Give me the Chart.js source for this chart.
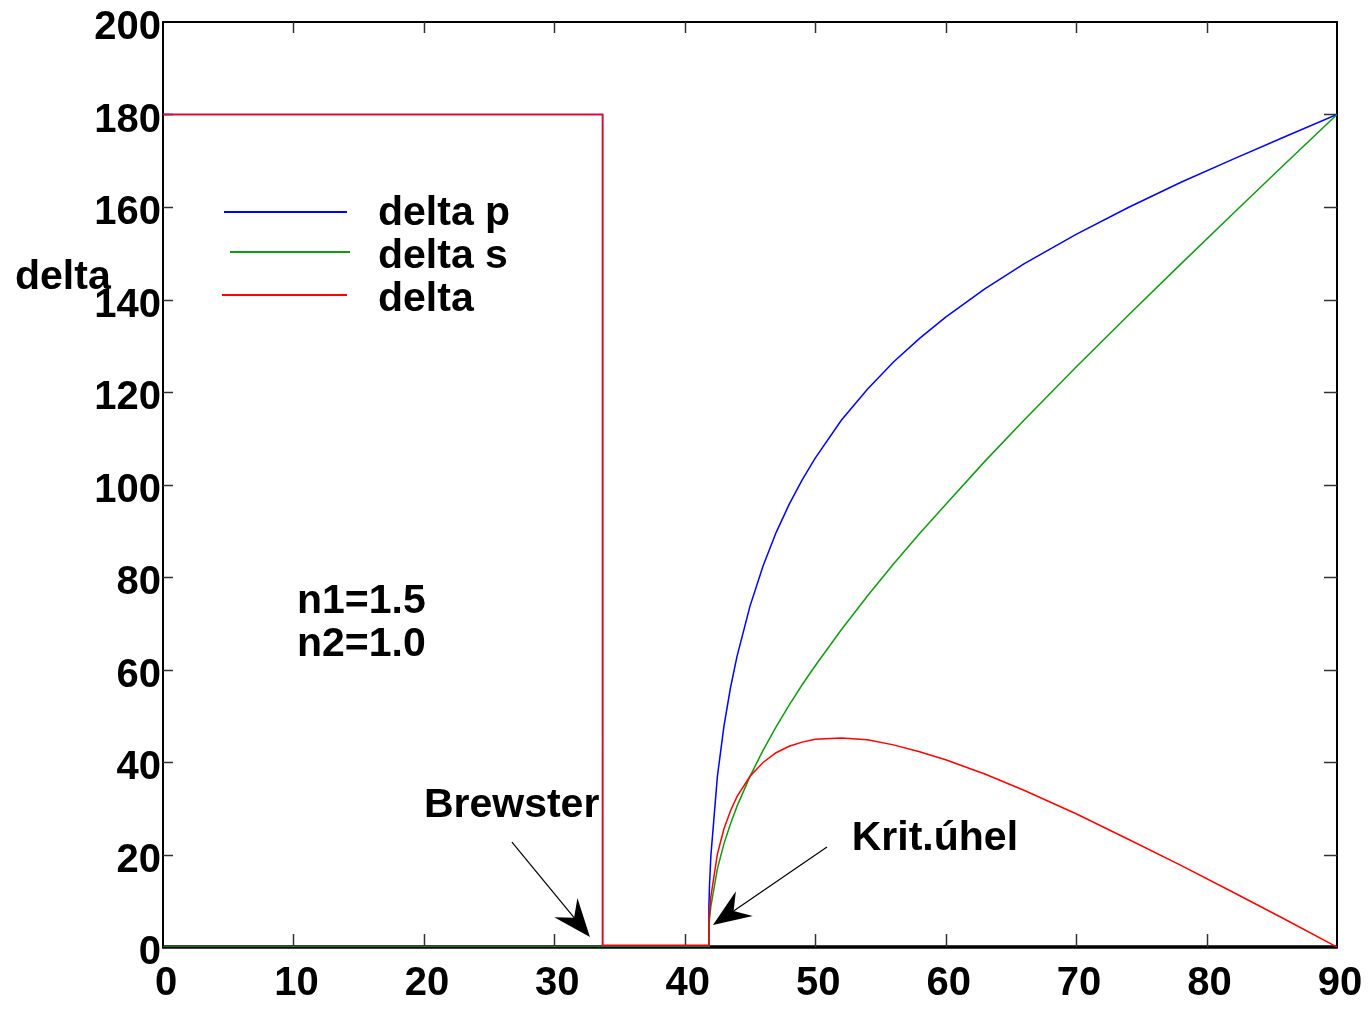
<!DOCTYPE html>
<html>
<head>
<meta charset="utf-8">
<title>delta</title>
<script src="https://cdn.jsdelivr.net/npm/chart.js@4.4.1/dist/chart.umd.min.js"></script>
<style>
  html, body { margin: 0; padding: 0; background: #fff; }
  canvas { display: block; }
</style>
</head>
<body>
<canvas id="grafico" width="1371" height="1009"></canvas>
<script>
// Valores (ángulo en grados, delta en grados)
const uhelP = [0, 33.7, 33.7, 41.8, 41.85, 41.9, 42, 42.5, 43, 43.5, 44, 45, 46, 47, 48, 49, 50, 52, 54, 56, 58, 60, 63, 66, 70, 74, 78, 82, 86, 90];
const deltaP = [180, 180, 0, 0, 9.1, 13.6, 19.7, 36.9, 47.7, 56.0, 62.8, 73.7, 82.4, 89.6, 95.7, 101.0, 105.7, 113.9, 120.6, 126.5, 131.6, 136.2, 142.3, 147.7, 154.1, 159.9, 165.3, 170.3, 175.2, 180];

const uhelS = [0, 41.8, 41.85, 41.9, 42, 42.5, 43, 43.5, 44, 45, 46, 47, 48, 49, 50, 52, 54, 56, 58, 60, 63, 66, 70, 74, 78, 82, 86, 90];
const deltaS = [0, 0, 4.1, 6.1, 8.8, 16.9, 22.3, 26.6, 30.4, 36.9, 42.5, 47.6, 52.3, 56.7, 60.8, 68.6, 75.9, 82.8, 89.4, 95.7, 105.0, 113.9, 125.4, 136.6, 147.6, 158.5, 169.3, 180];

const uhelD = [0, 33.7, 33.7, 41.8, 41.85, 41.9, 42, 42.5, 43, 43.5, 44, 45, 46, 47, 48, 49, 50, 52, 54, 56, 58, 60, 63, 66, 70, 74, 78, 82, 86, 90];
const delta = [180, 180, 0.4, 0.4, 5.1, 7.5, 10.9, 20.1, 25.5, 29.4, 32.5, 36.9, 39.9, 42.0, 43.4, 44.3, 44.9, 45.2, 44.8, 43.7, 42.2, 40.5, 37.4, 33.9, 28.8, 23.3, 17.7, 11.9, 6.0, 0];

const ticksX = [0, 10, 20, 30, 40, 50, 60, 70, 80, 90];
const ticksY = [0, 20, 40, 60, 80, 100, 120, 140, 160, 180, 200];

const puntos = (xs, ys) => xs.map((x, i) => ({ x: x, y: ys[i] }));

const fuente = '"Liberation Sans", Arial, Helvetica, sans-serif';
Chart.defaults.font.family = fuente;
Chart.defaults.font.size = 40;
Chart.defaults.font.weight = 'bold';
Chart.defaults.color = '#000';

// Marco, ticks hacia dentro, leyenda y anotaciones
const dibujos = {
    id: 'dibujos',
    beforeDatasetsDraw(chart) {
        const { ctx, chartArea: a, scales: { x, y } } = chart;
        ctx.save();
        ctx.strokeStyle = '#000';
        ctx.lineWidth = 2;
        ctx.strokeRect(a.left, a.top, a.right - a.left, a.bottom - a.top);
        ctx.lineWidth = 3.5;
        ctx.beginPath();
        ctx.moveTo(a.left - 1, a.bottom);
        ctx.lineTo(a.right + 1, a.bottom);
        ctx.stroke();

        ctx.strokeStyle = '#333';
        ctx.lineWidth = 1.5;
        ctx.beginPath();
        ticksX.slice(1, -1).forEach(v => {
            const px = Math.round(x.getPixelForValue(v)) + 0.5;
            ctx.moveTo(px, a.bottom); ctx.lineTo(px, a.bottom - 13);
            ctx.moveTo(px, a.top); ctx.lineTo(px, a.top + 11);
        });
        ticksY.slice(1, -1).forEach(v => {
            const py = Math.round(y.getPixelForValue(v)) + 0.5;
            ctx.moveTo(a.left, py); ctx.lineTo(a.left + 10, py);
            ctx.moveTo(a.right, py); ctx.lineTo(a.right - 13, py);
        });
        ctx.stroke();
        ctx.restore();
    },
    afterDatasetsDraw(chart) {
        const { ctx, scales: { x, y } } = chart;
        ctx.save();
        ctx.font = 'bold 41px ' + fuente;
        ctx.fillStyle = '#000';
        ctx.textBaseline = 'alphabetic';
        ctx.textAlign = 'left';

        // leyenda
        const lineas = [[224, 347, 212, 225], [230, 350, 252, 268], [222, 347, 295, 311]];
        const orden = [0, 1, 2];
        orden.forEach((i, k) => {
            const ds = chart.data.datasets[i];
            const [x1, x2, ly, ty] = lineas[k];
            ctx.strokeStyle = ds.borderColor;
            ctx.lineWidth = 2;
            ctx.beginPath();
            ctx.moveTo(x1, ly); ctx.lineTo(x2, ly);
            ctx.stroke();
            ctx.fillText(ds.label, 378, ty);
        });

        // titulo del eje y
        ctx.fillText('delta', 15, 289);

        // textos en coordenadas de datos
        const texto = (t, dx, dy) => ctx.fillText(t, x.getPixelForValue(dx), y.getPixelForValue(dy));
        texto('n1=1.5', 10.27, 72.2);
        texto('n2=1.0', 10.27, 62.9);
        texto('Brewster', 20.0, 28.1);
        texto('Krit.úhel', 52.8, 21.0);

        // flechas
        const flecha = (x0, y0, x1, y1) => {
            const ax = x.getPixelForValue(x0), ay = y.getPixelForValue(y0);
            const bx = x.getPixelForValue(x1), by = y.getPixelForValue(y1);
            const len = Math.hypot(bx - ax, by - ay);
            const ux = (bx - ax) / len, uy = (by - ay) / len;
            const nx = -uy, ny = ux;
            const largo = 38, ancho = 15, muesca = 25;
            const cx = bx - ux * largo, cy = by - uy * largo;
            ctx.strokeStyle = '#000';
            ctx.lineWidth = 1.2;
            ctx.beginPath();
            ctx.moveTo(ax, ay);
            ctx.lineTo(bx - ux * muesca, by - uy * muesca);
            ctx.stroke();
            ctx.beginPath();
            ctx.moveTo(bx, by);
            ctx.lineTo(cx + nx * ancho, cy + ny * ancho);
            ctx.lineTo(bx - ux * muesca, by - uy * muesca);
            ctx.lineTo(cx - nx * ancho, cy - ny * ancho);
            ctx.closePath();
            ctx.fill();
        };
        flecha(26.75, 22.7, 32.73, 2.16);
        flecha(50.9, 21.6, 42.16, 4.76);
        ctx.restore();
    }
};

const ctx = document.getElementById('grafico').getContext('2d');
new Chart(ctx, {
    type: 'scatter',
    data: {
        datasets: [{
            label: 'delta p',
            data: puntos(uhelP, deltaP),
            borderColor: '#0000ff',
            order: 3
        }, {
            label: 'delta s',
            data: puntos(uhelS, deltaS),
            borderColor: '#119911',
            order: 2
        }, {
            label: 'delta',
            data: puntos(uhelD, delta),
            borderColor: '#ff0000',
            order: 1
        }]
    },
    options: {
        responsive: false,
        animation: false,
        devicePixelRatio: 1,
        showLine: true,
        elements: {
            point: { radius: 0, hoverRadius: 0 },
            line: { borderWidth: 1.5, tension: 0, fill: false }
        },
        layout: { padding: { top: 22, right: 34, left: 0, bottom: 0 } },
        scales: {
            x: {
                type: 'linear',
                min: 0,
                max: 90,
                grid: { display: false, drawTicks: false },
                border: { display: false },
                ticks: { padding: 13, labelOffset: 3 },
                afterBuildTicks: s => { s.ticks = ticksX.map(v => ({ value: v })); },
                afterFit: s => { s.height = 62; s.paddingLeft = 0; s.paddingRight = 0; }
            },
            y: {
                type: 'linear',
                min: 0,
                max: 200,
                grid: { display: false, drawTicks: false },
                border: { display: false },
                ticks: { padding: 2, labelOffset: 6 },
                afterBuildTicks: s => { s.ticks = ticksY.map(v => ({ value: v })); },
                afterFit: s => { s.width = 163; s.paddingTop = 0; s.paddingBottom = 0; }
            }
        },
        plugins: {
            legend: { display: false },
            tooltip: { enabled: false }
        }
    },
    plugins: [dibujos]
});
</script>
</body>
</html>
